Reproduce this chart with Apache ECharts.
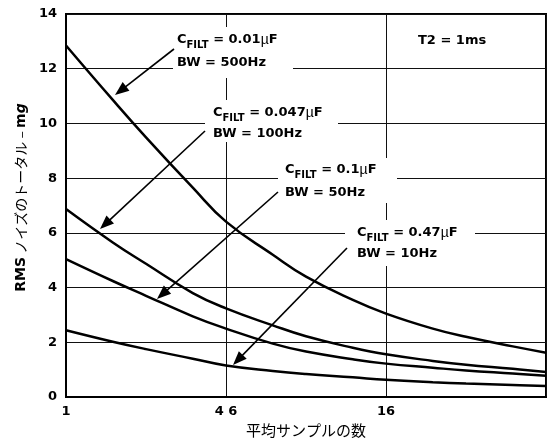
<!DOCTYPE html>
<html><head><meta charset="utf-8">
<script src="https://cdn.jsdelivr.net/npm/echarts@6/dist/echarts.min.js"></script>
<style>html,body{margin:0;padding:0;background:#fff}#c{width:551px;height:446px}</style>
</head><body><div id="c"></div>
<script>
// Number of averaged samples (x, log scale)
const samples = [1, 1.5, 2, 3, 4, 6, 8, 12, 16, 24, 32, 48, 64];
// RMS total noise (mg) for each filter capacitor
const cfilt001 = [12.85, 10.86, 9.49, 7.65, 6.41, 5.2, 4.4, 3.55, 3.05, 2.5, 2.2, 1.85, 1.62];
const cfilt0047 = [6.87, 5.65, 4.87, 3.8, 3.24, 2.62, 2.22, 1.8, 1.56, 1.32, 1.18, 1.03, 0.91];
const cfilt01 = [5.04, 4.24, 3.7, 2.95, 2.5, 1.95, 1.66, 1.38, 1.22, 1.07, 0.97, 0.86, 0.78];
const cfilt047 = [2.44, 2.02, 1.75, 1.4, 1.15, 0.95, 0.84, 0.72, 0.63, 0.54, 0.49, 0.44, 0.4];
const xTickValues = [1, 4, 16, 64];
const xTickLabels = ['1', '4 6', '16', ''];
const capLabels = ['0.01', '0.047', '0.1', '0.47'];
const bwLabels = ['BW = 500Hz', 'BW = 100Hz', 'BW = 50Hz', 'BW = 10Hz'];

const F = 'DejaVu Sans';
const JP = 'Noto Sans CJK JP';
const chart = echarts.init(document.getElementById('c'), null, {renderer: 'canvas'});
function pair(xs, ys) { return xs.map((x, i) => [x, ys[i]]); }
function line(ys) {
  return {type: 'line', data: pair(samples, ys), smooth: 0.45, symbol: 'none',
    lineStyle: {color: '#000', width: 2.5}, z: 3, silent: true};
}
const rich = {
  b: {fontFamily: F, fontWeight: 'bold', fontSize: 13, lineHeight: 20, verticalAlign: 'middle', fill: '#000', color: '#000'},
  s: {fontFamily: F, fontWeight: 'bold', fontSize: 10, lineHeight: 12, verticalAlign: 'bottom', fill: '#000', color: '#000'},
  u: {fontFamily: 'Liberation Sans', fontSize: 14, lineHeight: 20, verticalAlign: 'middle', fill: '#000', color: '#000'}
};
function box(x, y, w, h) {
  return {type: 'rect', silent: true, z: 50, shape: {x: x, y: y, width: w, height: h}, style: {fill: '#fff'}};
}
function txt(x, y, text) {
  return {type: 'text', silent: true, z: 60, x: x, y: y,
    style: {text: text, rich: rich, font: 'bold 13px "DejaVu Sans"', fill: '#000',
      align: 'left', verticalAlign: 'middle', textAlign: 'left', textVerticalAlign: 'middle'}};
}
function arrow(x1, y1, x2, y2) {
  const dx = x2 - x1, dy = y2 - y1, L = Math.hypot(dx, dy), ux = dx / L, uy = dy / L;
  const hl = 14, hw = 5.5, bx = x2 - ux * hl, by = y2 - uy * hl;
  return [
    {type: 'line', silent: true, z: 70, shape: {x1: x1, y1: y1, x2: bx + ux * 2, y2: by + uy * 2}, style: {stroke: '#000', lineWidth: 1.6}},
    {type: 'polygon', silent: true, z: 70, shape: {points: [[x2, y2], [bx - uy * hw, by + ux * hw], [bx + uy * hw, by - ux * hw]]}, style: {fill: '#000'}}
  ];
}
function capText(i) { return '{b|C}{s|FILT}{b| = ' + capLabels[i] + '}{u|µ}{b|F}'; }
function bwText(i) { return '{b|' + bwLabels[i] + '}'; }

const boxes = [[173, 27, 120, 51], [205, 100, 133, 42], [278, 158, 119, 45], [345, 220, 130, 46]];
const textPos = [[177, 40, 63], [213, 113, 134], [285, 170, 193], [357, 233, 254]];
const arrows = [[174, 49, 115, 95], [205, 131, 100, 229], [278, 192, 157, 299], [347, 248, 233, 365]];
const graphic = [];
for (let i = 0; i < 4; i++) {
  graphic.push(box.apply(null, boxes[i]));
  graphic.push(txt(textPos[i][0], textPos[i][1], capText(i)));
  graphic.push(txt(textPos[i][0], textPos[i][2], bwText(i)));
  arrow.apply(null, arrows[i]).forEach(g => graphic.push(g));
}
graphic.push(txt(418, 41, '{b|T2 = 1ms}'));

chart.setOption({
  animation: false,
  backgroundColor: '#fff',
  grid: {left: 66, right: 5, top: 14, bottom: 49, show: true, borderColor: '#000', borderWidth: 2},
  xAxis: {
    type: 'log', logBase: 4, min: 1, max: 64,
    axisLine: {show: true, lineStyle: {color: '#000', width: 2}},
    axisTick: {show: false},
    splitLine: {show: true, lineStyle: {color: '#111', width: 1}},
    axisLabel: {
      color: '#000', fontFamily: F, fontWeight: 'bold', fontSize: 13, margin: 8,
      formatter: function (v) {
        const r = Math.round(v);
        const i = xTickValues.indexOf(r);
        return i >= 0 ? xTickLabels[i] : '';
      }
    },
    name: '平均サンプルの数', nameLocation: 'middle', nameGap: 26,
    nameTextStyle: {color: '#000', fontFamily: JP, fontSize: 15}
  },
  yAxis: {
    type: 'value', min: 0, max: 14, interval: 2,
    axisLine: {show: true, lineStyle: {color: '#000', width: 2}},
    axisTick: {show: false},
    splitLine: {show: true, lineStyle: {color: '#111', width: 1}},
    axisLabel: {color: '#000', fontFamily: F, fontWeight: 'bold', fontSize: 13, margin: 9},
    name: '{b|RMS} ノイズのトータル – {b|m}{bi|g}', nameLocation: 'middle', nameGap: 34,
    nameTextStyle: {
      color: '#000', fontFamily: JP, fontSize: 14, padding: [0, 0, 0, 16],
      rich: {
        b: {fontFamily: F, fontWeight: 'bold', fontSize: 14, color: '#000'},
        bi: {fontFamily: F, fontWeight: 'bold', fontStyle: 'italic', fontSize: 14, color: '#000'}
      }
    }
  },
  series: [line(cfilt001), line(cfilt0047), line(cfilt01), line(cfilt047)],
  graphic: graphic
});
</script></body></html>
